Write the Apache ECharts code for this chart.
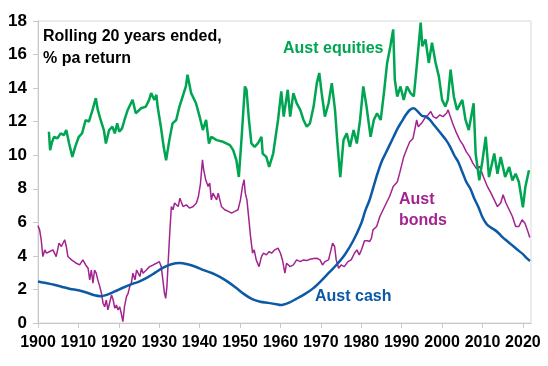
<!DOCTYPE html>
<html><head><meta charset="utf-8">
<script src="https://cdn.jsdelivr.net/npm/echarts@6/dist/echarts.min.js"></script>
<style>html,body{margin:0;padding:0;background:#fff}#c{width:548px;height:366px}</style>
</head><body><div id="c"></div>
<script>
var xTicks = [1900,1910,1920,1930,1940,1950,1960,1970,1980,1990,2000,2010,2020];
var yTicks = [0,2,4,6,8,10,12,14,16,18];

var eqYears = [1902.7,1903.0,1903.5,1904.0,1904.8,1905.6,1906.4,1907.0,1907.7,1908.5,1909.2,1910.1,1910.9,1911.8,1912.6,1913.5,1914.3,1914.8,1915.5,1916.3,1916.8,1917.6,1918.4,1919.0,1919.6,1920.1,1920.8,1921.4,1922.2,1923.4,1924.2,1925.5,1926.7,1927.5,1928.0,1928.8,1929.3,1929.6,1930.4,1931.1,1931.7,1932.5,1933.3,1934.2,1935.0,1935.8,1936.6,1937.0,1937.9,1939.1,1940.0,1940.8,1941.6,1942.3,1942.9,1944.2,1945.8,1947.5,1948.3,1949.1,1949.7,1950.4,1951.2,1951.6,1952.2,1952.8,1953.6,1954.4,1955.3,1955.6,1956.5,1957.2,1958.2,1959.4,1960.2,1960.8,1961.8,1962.4,1963.2,1964.0,1964.9,1965.7,1966.5,1967.3,1968.2,1969.0,1969.6,1970.2,1971.0,1971.9,1972.7,1973.5,1974.1,1974.8,1975.6,1976.4,1977.2,1978.1,1978.9,1979.7,1980.5,1981.3,1982.3,1983.1,1983.9,1984.8,1985.6,1986.4,1987.2,1987.9,1988.3,1988.9,1989.7,1990.5,1991.3,1992.2,1993.0,1993.8,1994.7,1995.1,1995.9,1996.7,1997.5,1998.4,1999.2,2000.0,2000.8,2001.4,2002.1,2002.9,2003.7,2005.0,2005.8,2006.6,2007.8,2008.3,2009.2,2010.0,2010.8,2011.6,2012.9,2013.7,2014.5,2015.6,2016.6,2017.4,2018.2,2019.0,2020.0,2020.6,2021.5];
var eqValues = [11.4,10.3,10.8,11.1,11.0,11.3,11.2,11.5,10.7,9.9,10.5,11.1,11.3,12.1,12.0,12.7,13.4,12.7,12.1,11.5,10.7,11.5,11.7,11.3,11.9,11.4,11.6,12.1,12.7,13.3,12.5,12.8,12.9,13.3,13.7,13.3,13.6,12.9,11.7,10.5,9.7,10.9,11.9,12.1,12.9,13.5,14.1,14.8,13.7,13.1,12.3,11.5,12.1,10.7,11.1,10.9,10.8,10.6,10.3,9.7,8.7,11.1,14.1,13.9,12.1,10.7,10.5,10.7,11.1,10.1,9.9,9.3,10.1,12.1,13.8,12.3,13.9,12.3,13.7,13.1,12.7,12.1,11.7,11.9,12.9,14.3,14.9,13.7,12.3,13.1,14.3,12.7,10.7,8.7,10.9,11.3,10.5,11.5,10.7,12.1,14.1,12.9,11.1,12.1,12.5,12.1,13.7,15.5,16.5,17.5,14.5,13.5,14.1,13.3,14.1,13.7,13.5,15.5,17.9,16.5,16.9,15.5,16.7,15.5,14.7,13.3,12.9,13.3,15.1,13.5,12.7,13.3,12.1,11.5,13.1,10.1,8.5,9.7,11.1,8.7,10.1,8.9,9.9,8.7,9.3,8.5,8.9,8.4,6.9,8.1,9.1];

var bondYears = [1900.0,1900.4,1900.8,1901.2,1901.7,1902.1,1902.9,1903.7,1904.5,1905.2,1905.8,1906.6,1907.0,1907.4,1908.3,1909.5,1910.3,1911.1,1911.8,1912.4,1912.8,1913.2,1913.6,1914.0,1914.4,1914.8,1915.3,1915.7,1916.1,1916.5,1916.9,1917.3,1917.7,1918.2,1918.6,1919.0,1919.4,1919.8,1920.2,1920.6,1921.0,1921.4,1921.9,1922.3,1922.7,1923.1,1923.5,1924.0,1924.4,1925.2,1925.6,1926.0,1926.8,1927.6,1928.5,1929.3,1930.0,1930.5,1930.9,1931.3,1931.6,1931.9,1932.2,1932.6,1933.0,1933.4,1933.8,1934.7,1935.1,1935.9,1936.7,1937.5,1938.4,1939.2,1939.7,1940.2,1940.7,1941.0,1941.5,1942.1,1942.5,1942.9,1943.3,1943.7,1944.2,1944.6,1945.4,1946.2,1947.1,1947.9,1948.7,1949.5,1950.1,1950.6,1951.0,1951.3,1951.7,1952.2,1952.6,1953.1,1953.5,1954.0,1954.7,1955.3,1955.8,1956.5,1957.2,1957.8,1958.6,1959.4,1960.0,1960.5,1960.8,1961.1,1961.5,1962.4,1963.2,1964.0,1964.9,1965.7,1966.5,1967.3,1968.2,1969.0,1969.8,1970.4,1971.0,1971.9,1972.5,1972.9,1973.4,1973.8,1974.4,1975.0,1975.8,1976.7,1977.5,1978.3,1978.9,1979.5,1980.1,1980.8,1981.5,1982.1,1982.5,1982.9,1983.8,1984.6,1985.4,1986.2,1987.0,1987.9,1988.9,1989.5,1990.5,1991.3,1992.0,1992.8,1993.3,1993.7,1994.1,1994.9,1995.7,1996.5,1997.2,1997.8,1998.6,1999.4,2000.2,2001.1,2001.5,2001.9,2002.6,2003.6,2004.4,2005.2,2006.0,2006.8,2007.6,2008.5,2009.3,2010.2,2011.2,2012.1,2012.9,2013.7,2014.5,2015.1,2015.8,2016.6,2017.4,2018.2,2019.0,2019.8,2020.5,2021.1,2021.7];
var bondValues = [5.8,5.55,4.95,3.96,4.36,4.16,4.26,4.36,3.96,4.76,4.56,4.96,4.56,3.96,3.76,3.56,3.46,3.76,3.46,3.26,2.57,3.16,2.37,3.16,2.97,2.57,2.17,1.77,1.18,0.97,1.37,0.78,1.18,1.67,1.37,0.88,1.07,0.78,0.97,0.58,0.08,0.97,1.57,1.77,2.17,2.37,2.97,2.57,3.16,2.77,3.26,2.97,3.16,3.36,3.46,3.56,3.66,3.36,2.57,1.77,1.47,2.17,3.56,5.35,6.94,6.75,7.15,6.94,7.44,6.94,7.04,6.85,6.94,7.15,7.54,8.3,9.73,9.13,8.54,8.14,8.34,7.34,7.74,7.84,7.34,7.74,6.94,6.75,6.65,6.55,6.65,6.75,7.34,8.14,8.54,7.74,7.34,6.15,5.15,4.16,4.36,3.76,3.36,3.96,4.16,4.06,4.26,4.16,4.36,4.46,4.16,3.76,3.36,2.97,3.56,3.36,3.46,3.76,3.66,3.76,3.72,3.8,3.84,3.86,3.76,3.46,3.66,3.76,4.36,4.76,4.56,3.76,3.26,3.46,3.36,3.66,3.76,4.16,4.36,4.06,4.4,4.9,4.9,4.86,5.05,5.55,5.75,6.35,6.75,7.15,7.54,8.14,8.4,8.93,9.9,10.4,10.8,11.0,11.6,12.1,11.7,11.9,12.2,12.4,12.6,12.3,12.2,12.4,12.3,12.5,12.7,12.4,11.9,11.3,10.9,10.6,10.2,9.93,9.53,9.2,9.33,8.73,8.14,7.74,7.34,6.94,7.15,7.64,7.15,6.75,6.35,5.75,5.75,6.15,5.95,5.55,5.1];

var cashYears = [1900,1902,1904,1906,1908,1910,1912,1914,1915.5,1917,1919,1921,1923,1925,1927,1929,1931,1933,1935,1937,1939,1941,1943,1945,1947,1949,1951,1953,1955,1957,1959,1960,1962,1964,1966,1968,1970,1972,1974,1976,1978,1980,1981,1982,1983,1984,1985,1986,1987,1988,1989,1990,1991,1992,1993,1994,1995,1996,1997,1998,1999,2000,2001,2002,2003,2004,2005,2006,2007,2008,2009,2010,2011,2012,2013,2014,2015,2016,2017,2018,2019,2020,2021,2021.75];
var cashValues = [2.47,2.38,2.28,2.15,2.03,1.95,1.82,1.65,1.6,1.68,1.88,2.1,2.3,2.47,2.7,3.0,3.3,3.5,3.58,3.5,3.35,3.15,2.98,2.75,2.45,2.1,1.72,1.42,1.27,1.2,1.12,1.07,1.2,1.45,1.72,2.05,2.5,3.0,3.5,4.1,4.9,5.95,6.7,7.3,8.1,8.9,9.6,10.1,10.6,11.1,11.6,12.0,12.4,12.7,12.8,12.6,12.35,12.3,12.1,11.8,11.5,11.2,10.9,10.5,10.0,9.6,9.0,8.4,8.0,7.4,6.9,6.3,5.9,5.7,5.55,5.35,5.1,4.9,4.7,4.5,4.3,4.1,3.85,3.7];

function pairs(xs, ys){ return xs.map(function(x,i){ return [x, ys[i]]; }); }

var FONT = "'Liberation Sans', Arial, sans-serif";
var GREEN = '#00a551', PURPLE = '#a2248f', BLUE = '#0c59a6';

var chart = echarts.init(document.getElementById('c'), null, {renderer:'canvas'});
chart.setOption({
  animation: false,
  backgroundColor: '#fff',
  grid: {left: 38, right: 17, top: 21, bottom: 43, show: true, borderColor: '#d9d9d9', borderWidth: 1, backgroundColor: 'transparent'},
  xAxis: {
    type: 'value', min: xTicks[0], max: 2022, interval: 10,
    axisLine: {show: true, lineStyle: {color: '#c8c8c8', width: 1}},
    axisTick: {show: true, length: 5, lineStyle: {color: '#c8c8c8'}},
    splitLine: {show: false},
    axisLabel: {showMaxLabel: false, margin: 12, color: '#000', fontWeight: 'bold', fontSize: 16, fontFamily: FONT,
      formatter: function(v){ return xTicks.indexOf(v) >= 0 ? String(v) : ''; }}
  },
  yAxis: {
    type: 'value', min: yTicks[0], max: yTicks[yTicks.length-1], interval: 2,
    axisLine: {show: true, lineStyle: {color: '#c8c8c8', width: 1}},
    axisTick: {show: true, length: 5, lineStyle: {color: '#c8c8c8'}},
    splitLine: {show: false},
    axisLabel: {margin: 11, color: '#000', fontWeight: 'bold', fontSize: 17, fontFamily: FONT}
  },
  series: [
    {name: 'Aust bonds', type: 'line', data: pairs(bondYears, bondValues), showSymbol: false, lineStyle: {color: PURPLE, width: 1.5}, z: 2},
    {name: 'Aust cash', type: 'line', data: pairs(cashYears, cashValues), showSymbol: false, smooth: 0.3, lineStyle: {color: BLUE, width: 2.5}, z: 3},
    {name: 'Aust equities', type: 'line', data: pairs(eqYears, eqValues), showSymbol: false, lineStyle: {color: GREEN, width: 2.5}, z: 4}
  ],
  graphic: [
    {type: 'text', left: 43, top: 26, style: {text: 'Rolling 20 years ended,\n% pa return', fill: '#000', font: 'bold 16px ' + FONT, lineHeight: 22}},
    {type: 'text', left: 283, top: 41, style: {text: 'Aust equities', fill: GREEN, font: 'bold 16px ' + FONT}},
    {type: 'text', left: 399, top: 189, style: {text: 'Aust\nbonds', fill: PURPLE, font: 'bold 16px ' + FONT, lineHeight: 21, align: 'center', x: 24}},
    {type: 'text', left: 315, top: 289, style: {text: 'Aust cash', fill: BLUE, font: 'bold 16px ' + FONT}}
  ]
});
</script></body></html>
